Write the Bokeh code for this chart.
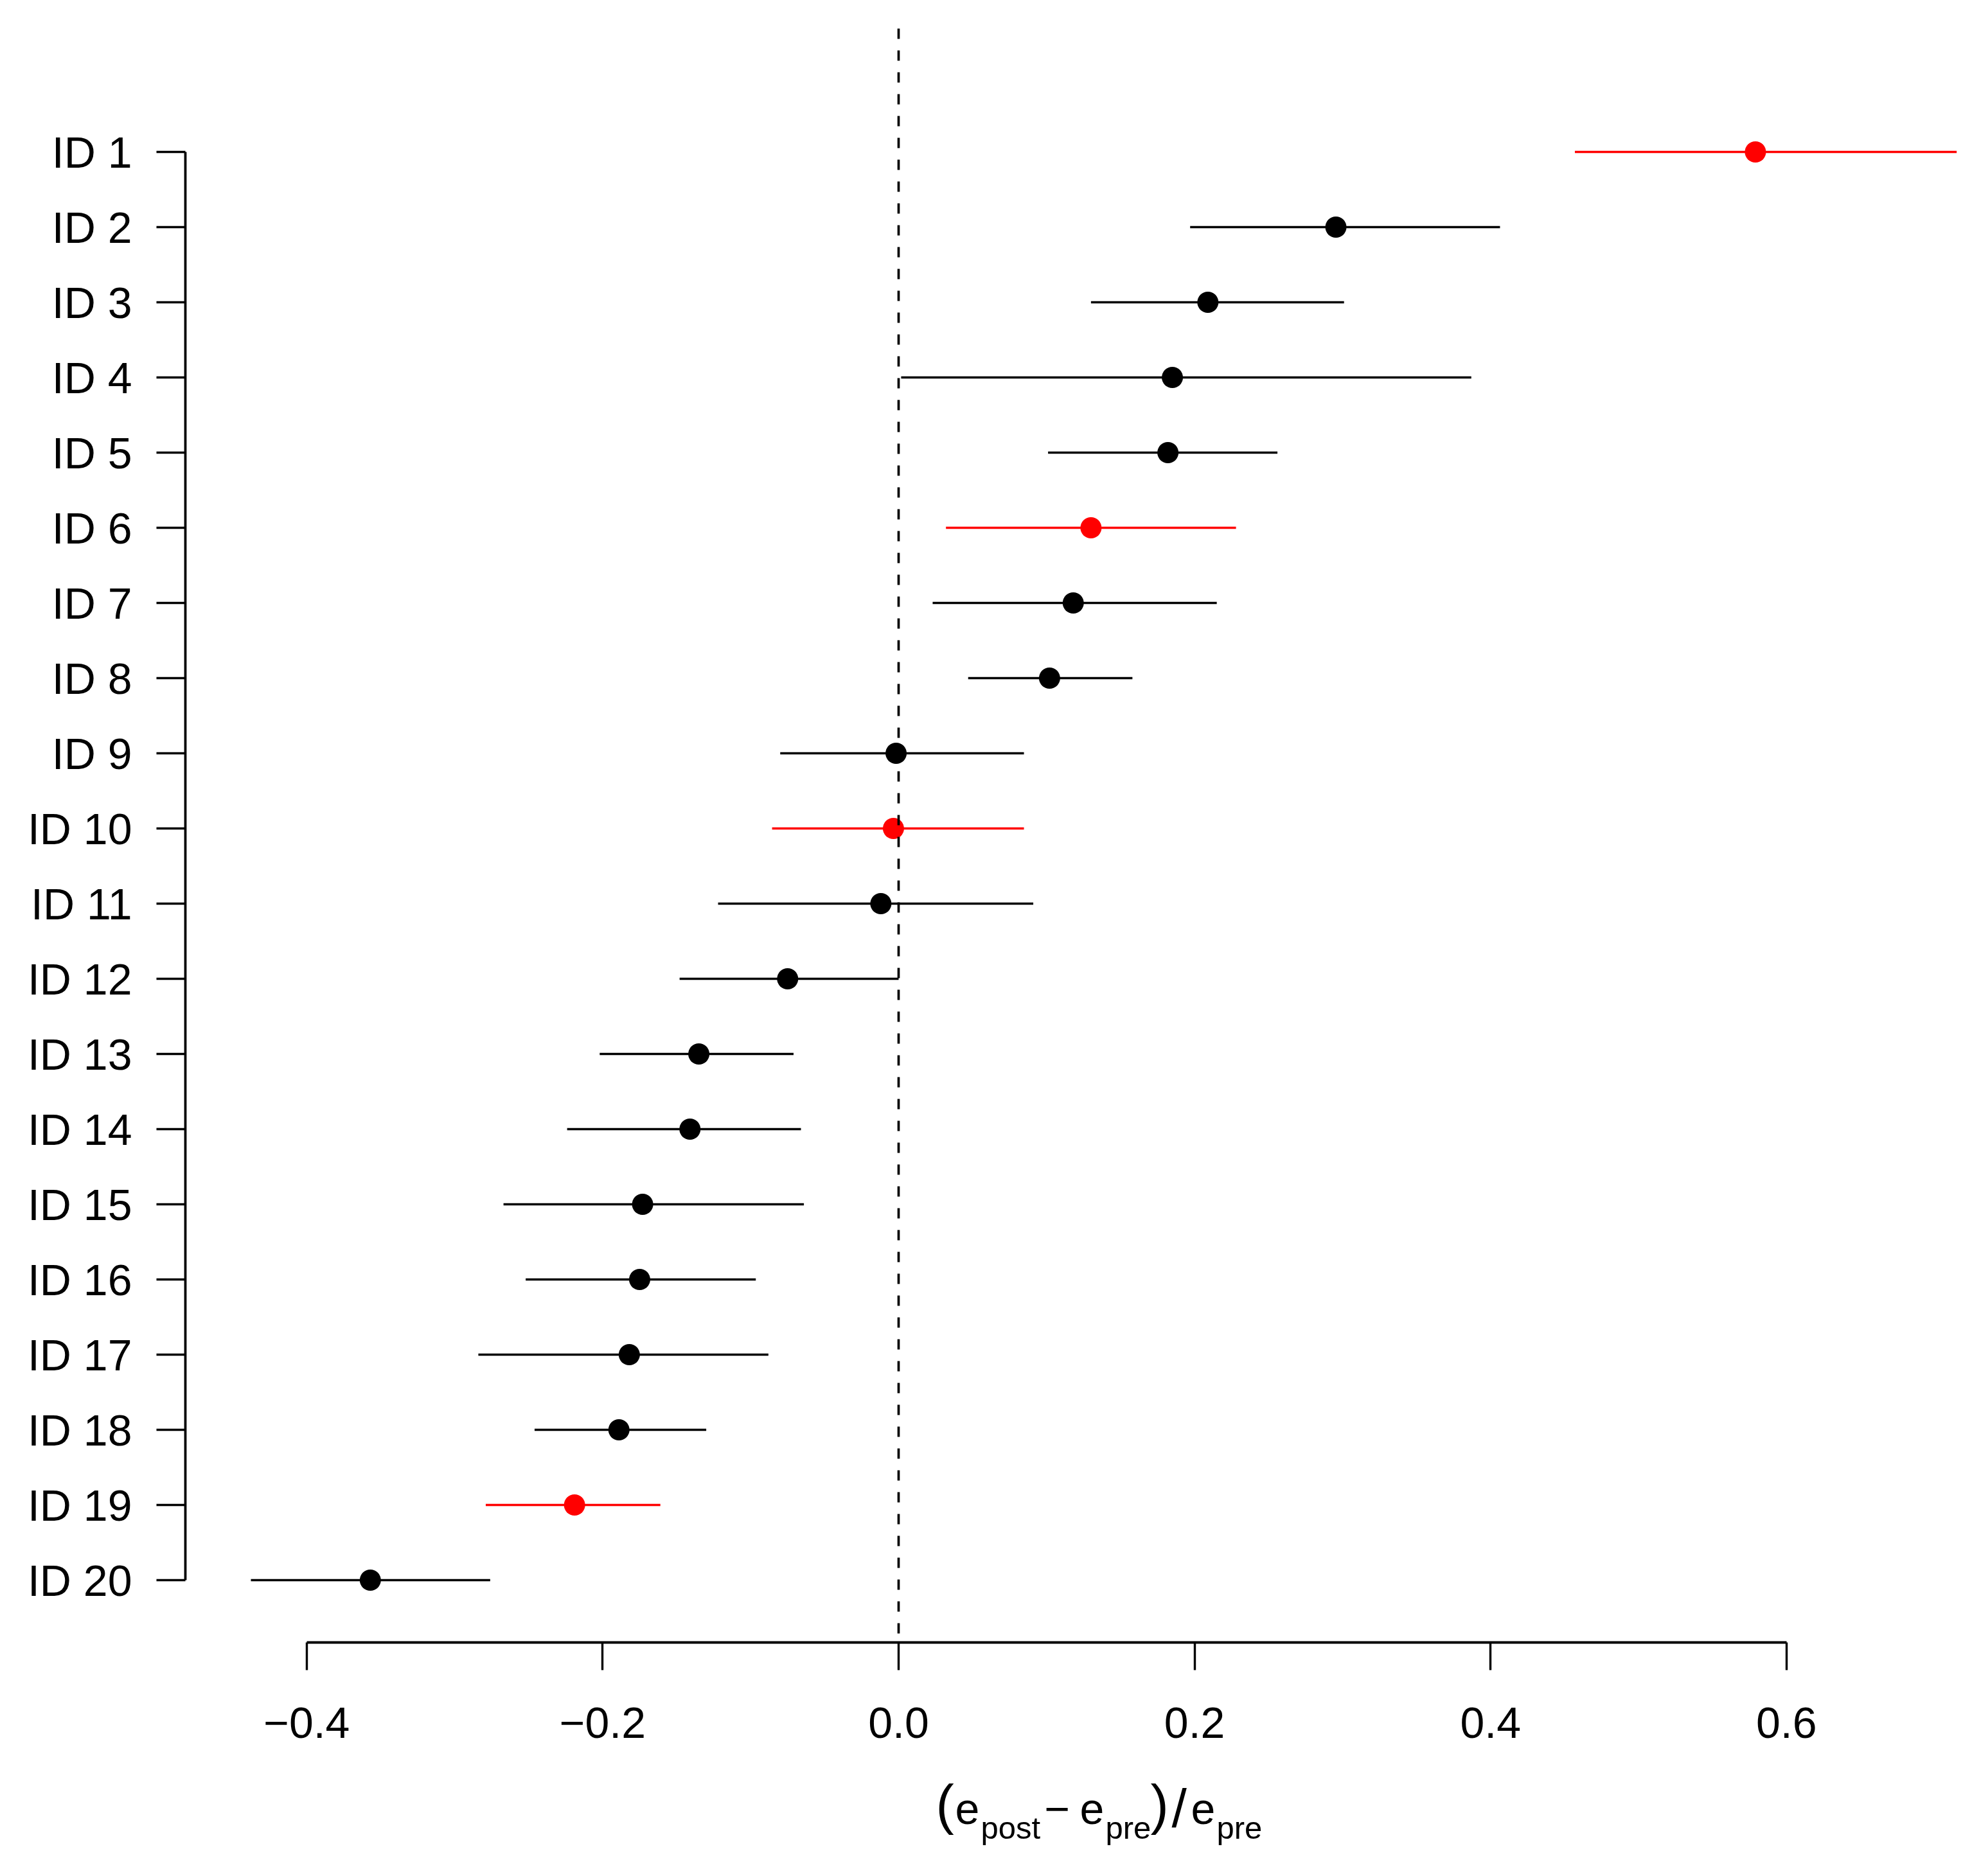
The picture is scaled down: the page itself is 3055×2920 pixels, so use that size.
from bokeh.plotting import figure
from bokeh.models import Range1d, FixedTicker, ColumnDataSource
from bokeh.core.properties import value
from bokeh.embed import file_html
from bokeh.resources import INLINE

# ---------------- data ----------------
id_labels = ["ID 1", "ID 2", "ID 3", "ID 4", "ID 5", "ID 6", "ID 7", "ID 8", "ID 9", "ID 10",
             "ID 11", "ID 12", "ID 13", "ID 14", "ID 15", "ID 16", "ID 17", "ID 18", "ID 19", "ID 20"]
row_pos = [1, 2, 3, 4, 5, 6, 7, 8, 9, 10, 11, 12, 13, 14, 15, 16, 17, 18, 19, 20]
estimate = [0.579, 0.2955, 0.209, 0.185, 0.182, 0.130, 0.118, 0.102, -0.0017, -0.0035,
            -0.012, -0.075, -0.135, -0.141, -0.173, -0.175, -0.182, -0.189, -0.219, -0.357]
lower = [0.457, 0.197, 0.130, 0.0017, 0.101, 0.032, 0.023, 0.047, -0.080, -0.0855,
         -0.122, -0.148, -0.202, -0.224, -0.267, -0.252, -0.284, -0.246, -0.279, -0.4377]
upper = [0.715, 0.4064, 0.301, 0.387, 0.256, 0.228, 0.215, 0.158, 0.0847, 0.0847,
         0.091, 0.000, -0.071, -0.066, -0.064, -0.0965, -0.088, -0.130, -0.161, -0.276]
highlighted = [True, False, False, False, False, True, False, False, False, True,
               False, False, False, False, False, False, False, False, True, False]
x_ticks = [-0.4, -0.2, 0.0, 0.2, 0.4, 0.6]
x_tick_labels = ["\u22120.4", "\u22120.2", "0.0", "0.2", "0.4", "0.6"]
ref_line = [0.0]

# axis title pieces: (e_post - e_pre)/e_pre
title_text = ["(", "e", "post", "\u2212", "e", "pre", ")", "/", "e", "pre"]

colors = ["#FF0000" if h else "#000000" for h in highlighted]
src = ColumnDataSource(dict(y=row_pos, est=estimate, lo=lower, hi=upper, color=colors))

FONT = "Liberation Sans"

# ---------------- geometry (pixels) ----------------
W, H = 3047, 2912
PX_ZERO = 1398        # pixel column of x = 0
PX_PER_X = 2303.0     # pixels per x unit
PY_FIRST = 236        # pixel row of ID 1
PX_PER_ROW = 117.0    # pixels between rows
AXIS_LEFT_PX = 288
AXIS_BOTTOM_PX = 2556
FRAME_TOP_PX = 44

def dx(px):
    return (px - PX_ZERO) / PX_PER_X

def dy(py):
    return row_pos[0] + (py - PY_FIRST) / PX_PER_ROW

p = figure(width=W, height=H, output_backend="svg", toolbar_location=None,
           x_range=Range1d(dx(0), dx(W)), y_range=Range1d(dy(H), dy(0)),
           min_border=0, min_border_left=0, min_border_right=0,
           min_border_top=0, min_border_bottom=0)
p.outline_line_color = None
p.background_fill_color = "white"
p.border_fill_color = "white"
p.xgrid.grid_line_color = None
p.ygrid.grid_line_color = None

# whiskers and points
p.segment(x0="lo", y0="y", x1="hi", y1="y", source=src, line_color="color", line_width=3.3)
p.scatter(x="est", y="y", source=src, size=33, fill_color="color", line_color=None)

# dashed zero line from top of plot region down to the x axis
p.segment(x0=ref_line, y0=[dy(FRAME_TOP_PX)], x1=ref_line, y1=[dy(AXIS_BOTTOM_PX)],
          line_color="black", line_width=3.7, line_dash="16 18")

# x axis
xa = p.xaxis[0]
xa.fixed_location = dy(AXIS_BOTTOM_PX)
xa.ticker = FixedTicker(ticks=x_ticks)
xa.major_label_overrides = {t: l for t, l in zip(x_ticks, x_tick_labels)}
xa.bounds = (x_ticks[0], x_ticks[-1])
xa.axis_line_width = 3.8
xa.major_tick_line_width = 3.4
xa.major_tick_out = 43
xa.major_tick_in = 0
xa.minor_tick_line_color = None
xa.major_label_standoff = 58
xa.major_label_text_font = FONT
xa.major_label_text_font_size = "68px"
xa.major_label_text_color = "black"

# y axis
ya = p.yaxis[0]
ya.fixed_location = dx(AXIS_LEFT_PX)
ya.ticker = FixedTicker(ticks=row_pos)
ya.major_label_overrides = {r: l for r, l in zip(row_pos, id_labels)}
ya.bounds = (row_pos[0], row_pos[-1])
ya.axis_line_width = 3.8
ya.major_tick_line_width = 3.4
ya.major_tick_out = 45
ya.major_tick_in = 0
ya.minor_tick_line_color = None
ya.major_label_standoff = 38
ya.major_label_text_font = FONT
ya.major_label_text_font_size = "68px"
ya.major_label_text_color = "black"

# ---------------- axis title (layout in pixels) ----------------
MAIN_BASE, SUB_BASE = 2861, 2878
title_px = [1456, 1486, 1526, 1625, 1680, 1720, 1790, 1823, 1853, 1893]
title_base = [2866, MAIN_BASE, SUB_BASE, MAIN_BASE, MAIN_BASE, SUB_BASE, 2866, 2872,
              MAIN_BASE, SUB_BASE]
title_fs = [85, 68, 49, 68, 68, 49, 85, 84, 68, 49]
BASE_SHIFT = 0.68  # compensation (in em) for where the text glyph puts its baseline
tx = [dx(px) for px in title_px]
ty = [dy(b - BASE_SHIFT * fs) for b, fs in zip(title_base, title_fs)]
tsize = [f"{fs}px" for fs in title_fs]
tsrc = ColumnDataSource(dict(x=tx, y=ty, text=title_text, size=tsize))
p.text(x="x", y="y", text="text", source=tsrc, text_font=value(FONT),
       text_font_size="size", text_color="black", text_align="left",
       text_baseline="alphabetic")

open("out.html", "w").write(file_html(p, INLINE))
